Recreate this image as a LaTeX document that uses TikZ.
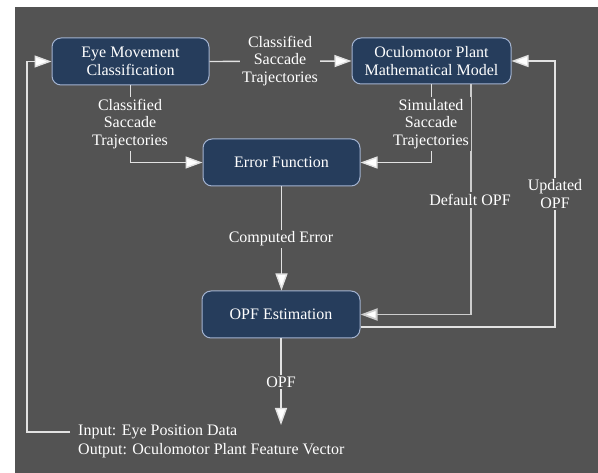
\documentclass[tikz,border=0pt]{standalone}
\usepackage{fontspec}
\setmainfont{Liberation Serif}
\usetikzlibrary{arrows.meta}
\definecolor{bg}{HTML}{535353}
\definecolor{boxfill}{HTML}{263D5C}
\definecolor{boxline}{HTML}{A3B3D0}
\definecolor{wire}{HTML}{E2E2E2}
\tikzset{
  txt/.style={text=white, font=\fontsize{16pt}{17.5pt}\selectfont},
  procbox/.style={txt, draw=boxline, line width=1pt, fill=boxfill, rounded corners=9pt,
    align=center, minimum width=157pt, minimum height=47pt, inner sep=2pt},
  lbl/.style={txt, fill=bg, align=center, inner sep=2pt},
  wireline/.style={draw=wire, line width=1.4pt},
  arr/.style={wireline, -{Triangle[length=17pt, width=12pt, fill=white]}}
}
\begin{document}
\begin{tikzpicture}[x=1pt, y=-1pt]
  % canvas and backdrop
  \useasboundingbox (0,0) rectangle (598,473);
  \fill[white] (0,0) rectangle (598,473);
  \fill[bg] (15,7) rectangle (598,473);

  % processing blocks
  \node[procbox] (eye) at (130.5,61.5) {Eye Movement\\Classification};
  \node[procbox, minimum width=159pt, minimum height=46pt] (opm) at (431.5,61) {Oculomotor Plant\\Mathematical Model};
  \node[procbox] (err) at (281.5,162.5) {Error Function};
  \node[procbox, minimum width=158pt] (opf) at (281,314.5) {OPF Estimation};

  % helper points for free ends and bends
  \coordinate (ioin) at (70,432);
  \coordinate (loopc) at (27,432);
  \coordinate (upd) at (555,327);
  \coordinate (out) at (281,425);

  % connectors
  \draw[arr] (eye.east) -- (opm.west);
  \draw[arr] (eye.south) |- (err.west);
  \draw[arr] (opm.south) |- (err.east);
  \draw[arr, line width=1.8pt, draw=wire!85!bg] ([xshift=39.5pt]opm.south) |- (opf.east);
  \draw[arr] ([yshift=-12.5pt]opf.east) -- (upd) |- (opm.east);
  \draw[arr] (err.south) -- (err.south |- opf.north);
  \draw[arr] (opf.south) -- (out);
  \draw[arr] (ioin) -- (loopc) |- (eye.west);

  % connector labels
  \node[lbl] (l1) at (280,61) {Classified\\Saccade\\Trajectories};
  \node[lbl] (l2) at (130,124) {Classified\\Saccade\\Trajectories};
  \node[lbl] (l3) at (431,124) {Simulated\\Saccade\\Trajectories};
  \node[lbl] (l4) at (470,200) {Default OPF};
  \node[lbl] (l5) at (555,194) {Updated\\OPF};
  \node[lbl] (l6) at (281,239) {Computed Error};
  \node[lbl] (l7) at (281,382) {OPF};

  % input / output note
  \node[txt, anchor=north west, align=left, inner sep=0pt,
        font=\fontsize{16pt}{18.5pt}\selectfont] (io) at (78,425)
    {Input: Eye Position Data\\Output: Oculomotor Plant Feature Vector};
\end{tikzpicture}
\end{document}
